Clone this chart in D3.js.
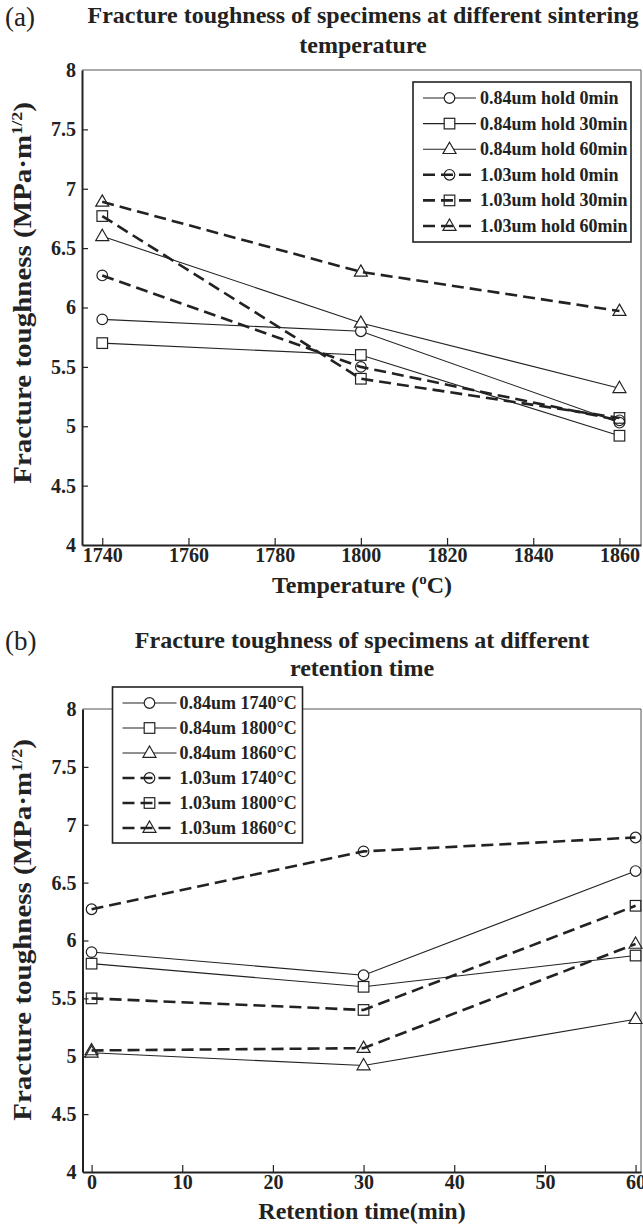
<!DOCTYPE html>
<html>
<head>
<meta charset="utf-8">
<script src="https://cdn.jsdelivr.net/npm/d3@7/dist/d3.min.js"></script>
<style>
  html, body { margin: 0; padding: 0; background: #fff; }
  svg { display: block; }
  text { font-family: "Liberation Serif", "Times New Roman", serif; fill: #222; }
</style>
</head>
<body>
<svg id="chart" width="643" height="1224"></svg>
<script>
// Sintering temperatures (°C) and holding times (min)
const temperatures = [1740, 1800, 1860];
const holdTimes = [0, 30, 60];

// Fracture toughness (MPa·m^1/2), indexed by temperature
const tough084Hold0  = [5.90, 5.80, 5.03];
const tough084Hold30 = [5.70, 5.60, 4.92];
const tough084Hold60 = [6.60, 5.87, 5.32];
const tough103Hold0  = [6.27, 5.50, 5.05];
const tough103Hold30 = [6.77, 5.40, 5.07];
const tough103Hold60 = [6.89, 6.30, 5.97];

const tempTicks = [1740, 1760, 1780, 1800, 1820, 1840, 1860];
const timeTicks = [0, 10, 20, 30, 40, 50, 60];
const yTicks = [4, 4.5, 5, 5.5, 6, 6.5, 7, 7.5, 8];

const markers = ["circle", "square", "triangle"];

// Panel (a): one series per grain size / hold time, plotted against temperature
const seriesA = [
  { name: "0.84um hold 0min",  values: tough084Hold0,  dashed: false, marker: "circle" },
  { name: "0.84um hold 30min", values: tough084Hold30, dashed: false, marker: "square" },
  { name: "0.84um hold 60min", values: tough084Hold60, dashed: false, marker: "triangle" },
  { name: "1.03um hold 0min",  values: tough103Hold0,  dashed: true,  marker: "circle" },
  { name: "1.03um hold 30min", values: tough103Hold30, dashed: true,  marker: "square" },
  { name: "1.03um hold 60min", values: tough103Hold60, dashed: true,  marker: "triangle" }
].map(s => ({ ...s, points: temperatures.map((t, i) => [t, s.values[i]]) }));

// Panel (b): same measurements regrouped per temperature, against hold time
const by084 = [tough084Hold0, tough084Hold30, tough084Hold60];
const by103 = [tough103Hold0, tough103Hold30, tough103Hold60];
const seriesB = [];
[["0.84um", by084, false], ["1.03um", by103, true]].forEach(([size, rows, dashed]) => {
  temperatures.forEach((t, ti) => {
    seriesB.push({
      name: size + " " + t + "°C",
      dashed,
      marker: markers[ti],
      points: holdTimes.map((h, hi) => [h, rows[hi][ti]])
    });
  });
});

const svg = d3.select("#chart");
const ink = "#222";

// Text placed at (x,y); optional horizontal squeeze and rotation
function label(parent, x, y, opts) {
  const k = opts.squeeze || 1;
  const t = parent.append("text")
    .attr("transform", `translate(${x},${y}) scale(${k},1)` + (opts.rotate ? ` rotate(${opts.rotate})` : ""))
    .attr("text-anchor", opts.anchor || "middle")
    .attr("font-size", opts.size)
    .attr("font-weight", opts.bold === false ? "normal" : "bold");
  if (opts.text !== undefined) t.text(opts.text);
  return t;
}

function drawMarker(g, type, x, y, fill) {
  if (type === "circle") {
    g.append("circle").attr("cx", x).attr("cy", y).attr("r", 5.3)
      .attr("fill", fill).attr("stroke", ink).attr("stroke-width", 1.2);
  } else if (type === "square") {
    g.append("rect").attr("x", x - 5.3).attr("y", y - 5.3).attr("width", 10.6).attr("height", 10.6)
      .attr("fill", fill).attr("stroke", ink).attr("stroke-width", 1.2);
  } else {
    const s = 13, h = s * Math.sqrt(3) / 2;
    g.append("path")
      .attr("d", `M${x},${y - h * 0.62}L${x + s / 2},${y + h * 0.38}L${x - s / 2},${y + h * 0.38}Z`)
      .attr("fill", fill).attr("stroke", ink).attr("stroke-width", 1.2);
  }
}

function styleLine(sel, dashed) {
  sel.attr("fill", "none").attr("stroke", ink)
    .attr("stroke-width", dashed ? 2.6 : 1.1)
    .attr("stroke-dasharray", dashed ? "12,6" : null);
}

function yLabel(x, y) {
  const t = label(svg, x, y, { size: 29, rotate: -90, squeeze: 0.85 });
  t.append("tspan").text("Fracture toughness (MPa·m");
  t.append("tspan").attr("font-size", 18).attr("dy", -11).text("1/2");
  t.append("tspan").attr("dy", 11).text(")");
}

let clipId = 0;
function panel(cfg) {
  const { left, right, top, bottom, xDomain, xTicks, series, legend } = cfg;
  const x = d3.scaleLinear().domain(xDomain).range([left, right]);
  const y = d3.scaleLinear().domain([4, 8]).range([bottom, top]);
  const g = svg.append("g");

  // Thin frame on the top and right
  g.append("path")
    .attr("d", `M${left},${top}H${right}V${bottom}`)
    .attr("fill", "none").attr("stroke", "#555").attr("stroke-width", 1);

  // Bottom axis with inward ticks
  const xAxis = d3.axisBottom(x).tickValues(xTicks).tickSize(-7).tickSizeOuter(0).tickFormat(d3.format("d"));
  const gx = g.append("g").attr("transform", `translate(0,${bottom})`).call(xAxis);
  gx.select(".domain").attr("stroke", ink).attr("stroke-width", 2);
  gx.selectAll(".tick line").attr("stroke", ink).attr("stroke-width", 1.2);
  gx.selectAll(".tick text").attr("font-family", "Liberation Serif, serif")
    .attr("font-size", 20).attr("font-weight", "bold").attr("fill", ink).attr("y", 3);

  // Left axis with inward ticks
  const yAxis = d3.axisLeft(y).tickValues(yTicks).tickSize(-6).tickSizeOuter(0).tickFormat(d3.format("~g"));
  const gy = g.append("g").attr("transform", `translate(${left},0)`).call(yAxis);
  gy.select(".domain").attr("stroke", ink).attr("stroke-width", 2);
  gy.selectAll(".tick line").attr("stroke", ink).attr("stroke-width", 1.2)
    .attr("display", d => (d === 4 || d === 8) ? "none" : null);
  gy.selectAll(".tick text").attr("font-family", "Liberation Serif, serif")
    .attr("font-size", 20).attr("font-weight", "bold").attr("fill", ink).attr("x", -6);

  const line = d3.line().x(d => x(d[0])).y(d => y(d[1]));
  series.forEach(s => {
    g.append("path").datum(s.points).attr("d", line).call(styleLine, s.dashed);
    s.points.forEach(p => drawMarker(g, s.marker, x(p[0]), y(p[1]), s.dashed ? "none" : "#fff"));
  });

  // Legend, with entry text kept inside the box
  const id = "legclip" + (clipId++);
  svg.append("clipPath").attr("id", id).append("rect")
    .attr("x", legend.x).attr("y", legend.y).attr("width", legend.w).attr("height", legend.h);
  const lg = svg.append("g");
  lg.append("rect").attr("x", legend.x).attr("y", legend.y)
    .attr("width", legend.w).attr("height", legend.h)
    .attr("fill", "#fff");
  const inner = lg.append("g").attr("clip-path", `url(#${id})`);
  series.forEach((s, i) => {
    const cy = legend.y + legend.first + i * legend.step;
    const x0 = legend.x + 10, x1 = legend.x + legend.sample;
    lg.append("path").attr("d", `M${x0},${cy}H${x1}`).call(styleLine, s.dashed);
    drawMarker(lg, s.marker, (x0 + x1) / 2, cy, s.dashed ? "none" : "#fff");
    label(inner, legend.x + legend.text, cy + 6, { size: 18, anchor: "start", text: s.name });
  });
  lg.append("rect").attr("x", legend.x).attr("y", legend.y)
    .attr("width", legend.w).attr("height", legend.h)
    .attr("fill", "none").attr("stroke", ink).attr("stroke-width", 1.6);
  return { x, y };
}

// ---- Panel (a)
label(svg, 5, 26, { size: 27, bold: false, anchor: "start", text: "(a)" });
label(svg, 363, 23, { size: 24, text: "Fracture toughness of specimens at different sintering" });
label(svg, 363, 53, { size: 24, text: "temperature" });

panel({
  left: 82, right: 641, top: 70, bottom: 545,
  xDomain: [1735.3, 1865], xTicks: tempTicks, series: seriesA,
  legend: { x: 413, y: 82, w: 218, h: 160, first: 16, step: 25.6, sample: 63, text: 67 }
});
yLabel(31, 293);
{
  const t = label(svg, 362, 593, { size: 24 });
  t.append("tspan").text("Temperature (");
  t.append("tspan").attr("font-size", 15).attr("dy", -9).text("o");
  t.append("tspan").attr("dy", 9).text("C)");
}

// ---- Panel (b)
label(svg, 5, 650, { size: 27, bold: false, anchor: "start", text: "(b)" });
label(svg, 362, 648, { size: 24, text: "Fracture toughness of specimens at different" });
label(svg, 362, 676, { size: 24, text: "retention time" });

panel({
  left: 82.5, right: 641, top: 709, bottom: 1172,
  xDomain: [-1, 60.6], xTicks: timeTicks, series: seriesB,
  legend: { x: 112.5, y: 687, w: 190, h: 156, first: 16, step: 25, sample: 64, text: 67 }
});
yLabel(31, 930);
label(svg, 362, 1219, { size: 24, text: "Retention time(min)" });
</script>
</body>
</html>
